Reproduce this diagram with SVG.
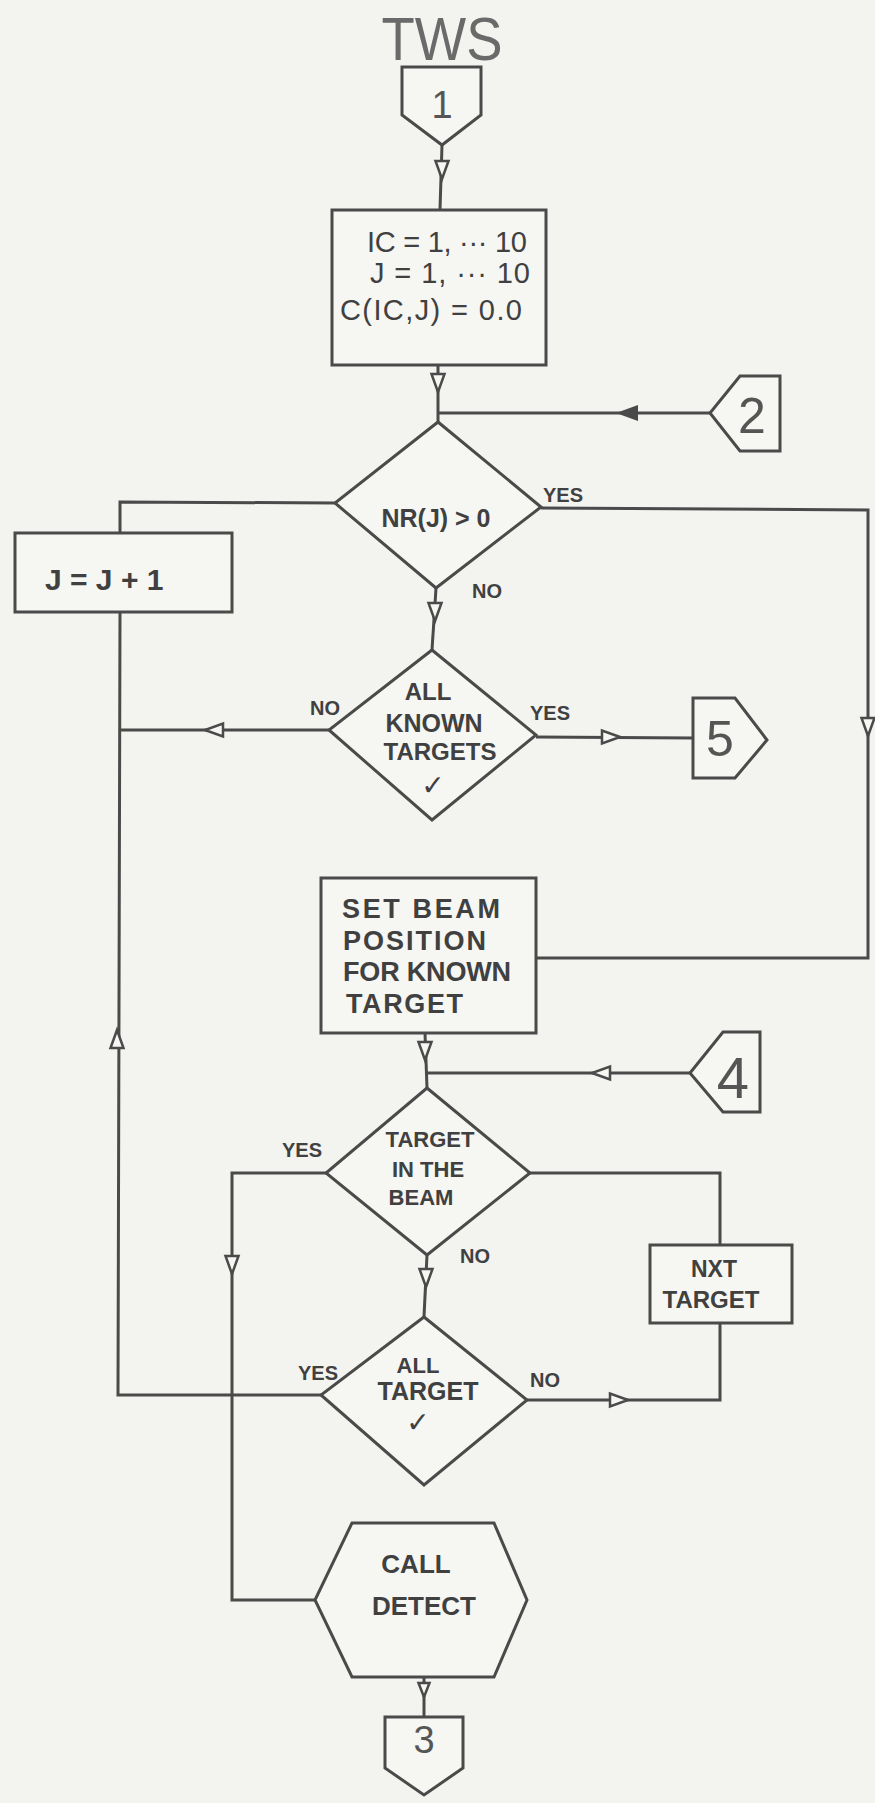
<svg xmlns="http://www.w3.org/2000/svg" width="875" height="1803" viewBox="0 0 875 1803">
<style>
.bg{fill:#f3f3f0}
.sh{fill:#f6f6f3;stroke:#4a4a4a;stroke-width:3;stroke-linejoin:miter}
.ln{fill:none;stroke:#4a4a4a;stroke-width:3}
.ah{fill:#f6f6f3;stroke:#4a4a4a;stroke-width:2.5;stroke-linejoin:miter}
.ahf{fill:#4a4a4a;stroke:#4a4a4a;stroke-width:2}
text{font-family:"Liberation Sans",Arial,sans-serif;fill:#404040}
.c{text-anchor:middle}
.b{font-weight:bold}
.lbl{font-size:20px;font-weight:bold}
.num{font-size:50px;fill:#555}
.ck{font-family:"DejaVu Sans",sans-serif}
</style>
<defs>
<path id="oa" d="M0,0 L-18,-6.5 L-18,6.5 Z"/>
<path id="oas" d="M0,0 L-14,-5.5 L-14,5.5 Z"/>
</defs>
<rect class="bg" x="0" y="0" width="875" height="1803"/>

<text x="442" y="60" class="c" font-size="62" textLength="121" lengthAdjust="spacingAndGlyphs" style="fill:#6a6a6a">TWS</text>

<g id="connectors">
<path class="ln" d="M442,145 L440,210"/>
<path class="ln" d="M438,365 L438,422"/>
<path class="ln" d="M710,413 L438,413"/>
<path class="ln" d="M335,503 L120,502 L120,533"/>
<path class="ln" d="M120,612 L118,1395 L321,1395"/>
<path class="ln" d="M329,730 L120,730"/>
<path class="ln" d="M541,508 L868,510 L868,958 L536,958"/>
<path class="ln" d="M436,588 L432,650"/>
<path class="ln" d="M536,737 L693,738"/>
<path class="ln" d="M425,1033 L427,1088"/>
<path class="ln" d="M690,1073 L426,1073"/>
<path class="ln" d="M326,1173 L232,1173 L232,1600 L315,1600"/>
<path class="ln" d="M530,1173 L720,1173 L720,1245"/>
<path class="ln" d="M720,1323 L720,1400 L527,1400"/>
<path class="ln" d="M427,1255 L424,1317"/>
<path class="ln" d="M424,1677 L424,1717"/>
<use href="#oa" class="ah" transform="translate(442,179) rotate(90)"/>
<use href="#oa" class="ah" transform="translate(438,392) rotate(90)"/>
<use href="#oa" class="ahf" transform="translate(619,413) rotate(180)"/>
<use href="#oa" class="ah" transform="translate(435,621) rotate(90)"/>
<use href="#oa" class="ah" transform="translate(205,730) rotate(180)"/>
<use href="#oa" class="ah" transform="translate(620,737)"/>
<use href="#oa" class="ah" transform="translate(868,736) rotate(90)"/>
<use href="#oa" class="ah" transform="translate(117,1030) rotate(-90)"/>
<use href="#oa" class="ah" transform="translate(425,1060) rotate(90)"/>
<use href="#oa" class="ah" transform="translate(592,1073) rotate(180)"/>
<use href="#oa" class="ah" transform="translate(232,1274) rotate(90)"/>
<use href="#oa" class="ah" transform="translate(426,1287) rotate(90)"/>
<use href="#oa" class="ah" transform="translate(628,1400)"/>
<use href="#oas" class="ah" transform="translate(424,1697) rotate(90)"/>
</g>

<g id="conn1">
<polygon class="sh" points="402,67 481,67 481,115 442,145 402,115"/>
<text x="442" y="118" class="c" font-size="38" style="fill:#555">1</text>
</g>

<g id="init">
<rect class="sh" x="332" y="210" width="214" height="155"/>
<text x="447" y="252" class="c" font-size="29" textLength="160">IC = 1, ··· 10</text>
<text x="450" y="283" class="c" font-size="29" textLength="160">J = 1, ··· 10</text>
<text x="431" y="320" class="c" font-size="29" textLength="182">C(IC,J) = 0.0</text>
</g>

<g id="conn2">
<polygon class="sh" points="740,376 780,376 780,451 740,451 710,413"/>
<text x="752" y="433" class="c num">2</text>
</g>

<g id="nr">
<polygon class="sh" points="438,422 541,507 436,588 335,503"/>
<text x="436" y="527" class="c b" font-size="25">NR(J) &gt; 0</text>
<text x="543" y="502" class="lbl">YES</text>
<text x="472" y="598" class="lbl">NO</text>
</g>

<g id="jinc">
<rect class="sh" x="15" y="533" width="217" height="79"/>
<text x="45" y="590" font-size="30" class="b">J = J + 1</text>
</g>

<g id="allknown">
<polygon class="sh" points="432,650 536,735 432,820 329,730"/>
<text x="428" y="700" class="c b" font-size="24">ALL</text>
<text x="434" y="732" class="c b" font-size="25">KNOWN</text>
<text x="440" y="760" class="c b" font-size="24">TARGETS</text>
<text x="433" y="795" class="c ck" font-size="28">✓</text>
<text x="310" y="715" class="lbl">NO</text>
<text x="530" y="720" class="lbl">YES</text>
</g>

<g id="conn5">
<polygon class="sh" points="693,698 735,698 767,740 735,778 693,778"/>
<text x="720" y="756" class="c num">5</text>
</g>

<g id="setbeam">
<rect class="sh" x="321" y="878" width="215" height="155"/>
<text x="342" y="918" font-size="27" class="b" textLength="158">SET  BEAM</text>
<text x="343" y="950" font-size="27" class="b" textLength="143">POSITION</text>
<text x="343" y="981" font-size="27" class="b" textLength="168">FOR KNOWN</text>
<text x="346" y="1013" font-size="27" class="b" textLength="117">TARGET</text>
</g>

<g id="conn4">
<polygon class="sh" points="723,1032 760,1032 760,1112 723,1112 690,1073"/>
<text x="733" y="1098" class="c" font-size="58" style="fill:#555">4</text>
</g>

<g id="inbeam">
<polygon class="sh" points="427,1088 530,1173 427,1255 326,1173"/>
<text x="430" y="1147" class="c b" font-size="22">TARGET</text>
<text x="428" y="1177" class="c b" font-size="22">IN  THE</text>
<text x="421" y="1205" class="c b" font-size="22">BEAM</text>
<text x="282" y="1157" class="lbl">YES</text>
<text x="460" y="1263" class="lbl">NO</text>
</g>

<g id="nxt">
<rect class="sh" x="650" y="1245" width="142" height="78"/>
<text x="714" y="1277" class="c b" font-size="23">NXT</text>
<text x="711" y="1308" class="c b" font-size="24">TARGET</text>
</g>

<g id="alltarget">
<polygon class="sh" points="424,1317 527,1400 424,1485 321,1395"/>
<text x="418" y="1373" class="c b" font-size="22">ALL</text>
<text x="428" y="1400" class="c b" font-size="25">TARGET</text>
<text x="418" y="1432" class="c ck" font-size="28">✓</text>
<text x="298" y="1380" class="lbl">YES</text>
<text x="530" y="1387" class="lbl">NO</text>
</g>

<g id="detect">
<polygon class="sh" points="352,1523 494,1523 527,1600 494,1677 352,1677 315,1600"/>
<text x="416" y="1573" class="c b" font-size="26">CALL</text>
<text x="424" y="1615" class="c b" font-size="26">DETECT</text>
</g>

<g id="conn3">
<polygon class="sh" points="385,1717 463,1717 463,1768 424,1795 385,1768"/>
<text x="424" y="1753" class="c" font-size="38" style="fill:#555">3</text>
</g>
</svg>
